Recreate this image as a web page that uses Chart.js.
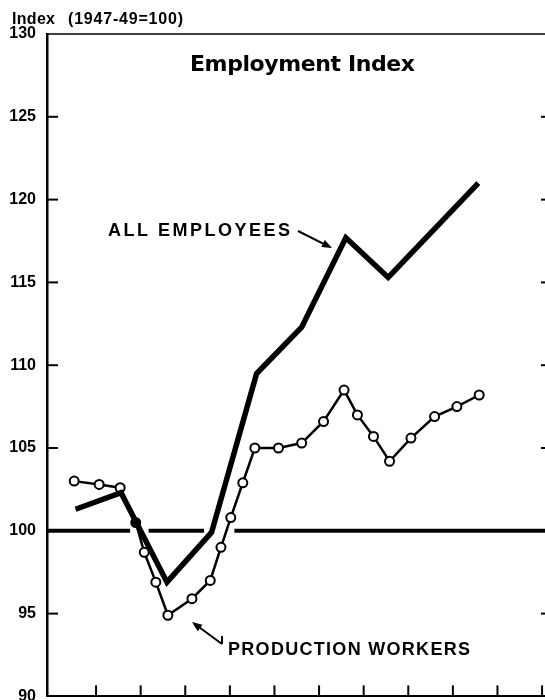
<!DOCTYPE html>
<html>
<head>
  <title>Employment Index</title>
  <script src="https://cdn.jsdelivr.net/npm/chart.js@4"></script>
  <style>
    body { margin: 0; overflow: hidden; background: #fff; }
  </style>
</head>
<body>
  <canvas id="chart" width="560" height="717"></canvas>
  <script>
    // x = years from the first tick mark, y = index (1947-49=100)
    const xTicks = [1, 2, 3, 4, 5, 6, 7, 8, 9, 10, 11];
    const yTicks = [90, 95, 100, 105, 110, 115, 120, 125, 130];
    const baseValue = 100;

    const allX = [0.54, 1.56, 2.59, 3.59, 4.60, 5.61, 6.60, 7.55, 9.57];
    const allY = [101.3, 102.3, 96.9, 99.9, 109.5, 112.3, 117.7, 115.3, 121.0];

    const prodX = [0.51, 1.07, 1.54, 1.89, 2.08, 2.34, 2.61, 3.15, 3.56, 3.80, 4.02, 4.29,
                   4.56, 5.09, 5.61, 6.10, 6.56, 6.86, 7.22, 7.58, 8.06, 8.59, 9.09, 9.59];
    const prodY = [103.0, 102.8, 102.6, 100.5, 98.7, 96.9, 94.9, 95.9, 97.0, 99.0, 100.8, 102.9,
                   105.0, 105.0, 105.3, 106.6, 108.5, 107.0, 105.7, 104.2, 105.6, 106.9, 107.5, 108.2];

    const xMin = -0.1, xMax = 11.2;

    const pts = (xs, ys) => xs.map((x, i) => ({ x, y: ys[i] }));

    const sans = '"Liberation Sans", Arial, sans-serif';

    function line(ctx, x1, y1, x2, y2) {
      ctx.beginPath(); ctx.moveTo(x1, y1); ctx.lineTo(x2, y2); ctx.stroke();
    }

    function arrow(ctx, x1, y1, x2, y2) {
      const a = Math.atan2(y2 - y1, x2 - x1);
      line(ctx, x1, y1, x2 - 6 * Math.cos(a), y2 - 6 * Math.sin(a));
      ctx.beginPath();
      ctx.moveTo(x2, y2);
      ctx.lineTo(x2 - 10 * Math.cos(a) + 4 * Math.sin(a), y2 - 10 * Math.sin(a) - 4 * Math.cos(a));
      ctx.lineTo(x2 - 10 * Math.cos(a) - 4 * Math.sin(a), y2 - 10 * Math.sin(a) + 4 * Math.cos(a));
      ctx.closePath();
      ctx.fill();
    }

    // spread text so it fills left..right
    function spaced(ctx, text, left, right, baseline) {
      const chars = [...text];
      const w = chars.map(c => ctx.measureText(c).width);
      const gap = (right - left - w.reduce((a, b) => a + b, 0)) / (chars.length - 1);
      let x = left;
      chars.forEach((c, i) => { ctx.fillText(c, x, baseline); x += w[i] + gap; });
    }

    // x pixels where a series crosses the 100 line
    function crossings(xs, ys, x) {
      const out = [];
      for (let i = 0; i < xs.length - 1; i++) {
        const a = ys[i] - baseValue, b = ys[i + 1] - baseValue;
        if (a * b <= 0 && a !== b) {
          out.push(x.getPixelForValue(xs[i] + (xs[i + 1] - xs[i]) * a / (a - b)));
        }
      }
      return out;
    }

    const decor = {
      id: 'decor',
      // 100 line, broken where the series cross it
      beforeDatasetsDraw(chart) {
        const { ctx, chartArea: a, scales: { x, y } } = chart;
        const by = y.getPixelForValue(baseValue);
        const cuts = crossings(allX, allY, x).concat(crossings(prodX, prodY, x))
          .sort((p, q) => p - q)
          .map(c => [c - 8, c + 8]);
        ctx.save();
        ctx.strokeStyle = '#000';
        ctx.lineWidth = 4;
        let from = a.left;
        cuts.forEach(([l, r]) => {
          if (l > from) line(ctx, from, by, l, by);
          from = Math.max(from, r);
        });
        line(ctx, from, by, a.right, by);
        ctx.restore();
      },
      afterDraw(chart) {
        const { ctx, chartArea: a, scales: { x, y } } = chart;
        ctx.save();
        ctx.strokeStyle = '#000';
        ctx.fillStyle = '#000';

        ctx.lineWidth = 1.5;
        line(ctx, a.left, a.top, a.right, a.top);

        ctx.lineWidth = 2;
        yTicks.forEach(v => {
          if (v === yTicks[0] || v === yTicks[yTicks.length - 1] || v === baseValue) return;
          const py = y.getPixelForValue(v);
          line(ctx, a.left, py, a.left + 11, py);
          line(ctx, a.right - 10, py, a.right, py);
        });
        xTicks.forEach(v => {
          const px = x.getPixelForValue(v);
          line(ctx, px, a.bottom, px, a.bottom - 11);
        });

        ctx.textAlign = 'left';
        ctx.font = 'bold 16px ' + sans;
        spaced(ctx, 'Index', 12, 55, 24);
        spaced(ctx, '(1947-49=100)', 68, 183, 24);

        ctx.font = 'bold 22px "DejaVu Sans", sans-serif';
        spaced(ctx, 'Employment Index', 190, 415, 71);

        ctx.font = 'bold 18px ' + sans;
        spaced(ctx, 'ALL EMPLOYEES', 108, 290, 236);
        spaced(ctx, 'PRODUCTION WORKERS', 228, 470, 655);

        ctx.lineWidth = 2;
        arrow(ctx, 298, 231, 332, 248);
        line(ctx, 222, 636, 222, 644);
        arrow(ctx, 222, 644, 192, 622);
        ctx.restore();
      }
    };

    new Chart(document.getElementById('chart'), {
      type: 'line',
      data: {
        datasets: [
          { data: pts(allX, allY), borderColor: '#000', borderWidth: 5.5, pointRadius: 0, order: 0 },
          {
            data: pts(prodX, prodY), borderColor: '#000', borderWidth: 2.5, order: 1,
            pointRadius: 4.5, pointBorderWidth: 2, pointBorderColor: '#000',
            pointBackgroundColor: c => c.dataIndex === 3 ? '#000' : '#fff'
          }
        ]
      },
      options: {
        responsive: false,
        animation: false,
        devicePixelRatio: 1,
        layout: { padding: { top: 34, right: 9, bottom: 0, left: 0 } },
        plugins: { legend: { display: false }, tooltip: { enabled: false } },
        elements: { line: { tension: 0 } },
        scales: {
          x: {
            type: 'linear', min: xMin, max: xMax,
            ticks: { display: false },
            grid: { drawOnChartArea: false, drawTicks: false },
            border: { display: true, color: '#000', width: 2 },
            afterFit: s => { s.height = 3; }
          },
          y: {
            min: 90, max: 130,
            afterBuildTicks: s => { s.ticks = yTicks.map(v => ({ value: v })); },
            ticks: { color: '#000', padding: 11, font: { family: sans, size: 16, weight: 'bold' } },
            grid: { drawOnChartArea: false, drawTicks: false },
            border: { display: true, color: '#000', width: 2.5 },
            afterFit: s => { s.width = 47; }
          }
        }
      },
      plugins: [decor]
    });
  </script>
</body>
</html>
